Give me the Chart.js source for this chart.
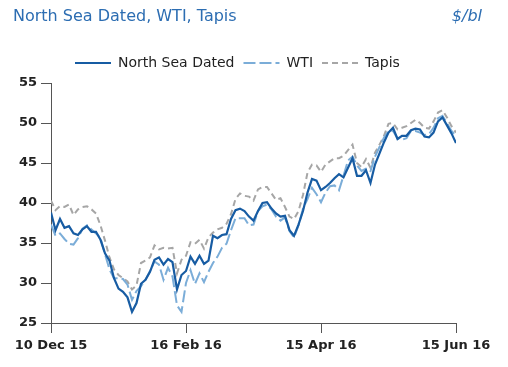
<!DOCTYPE html>
<html>
<head>
<meta charset="utf-8">
<script src="https://cdn.jsdelivr.net/npm/chart.js@4.4.0/dist/chart.umd.min.js"></script>
<style>
  html, body { margin: 0; padding: 0; background: #fff; }
  #wrap { position: relative; width: 508px; height: 367px; }
  .head { position: absolute; top: 6px; font-family: 'DejaVu Sans'; font-size: 16px; color: #2c6db2; white-space: nowrap; }
  #title { left: 13px; }
  #unit { right: 26px; font-style: italic; }
</style>
</head>
<body>
<div id="wrap">
  <canvas id="chart" width="508" height="367"></canvas>
  <div class="head" id="title">North Sea Dated, WTI, Tapis</div>
  <div class="head" id="unit">$/bl</div>
</div>
<script>
// x축 눈금 (데이터 인덱스 기준)
var tickIndex = [0, 30, 60, 90];
var tickLabels = ['10 Dec 15', '16 Feb 16', '15 Apr 16', '15 Jun 16'];

// 시리즈 값 ($/bl)
var northSea = [38.8,36.6,38.0,36.9,37.1,36.2,36.0,36.7,37.1,36.4,
	36.4,35.4,33.7,32.8,30.6,29.3,28.9,28.2,26.4,27.5,
	29.9,30.4,31.4,32.9,33.2,32.3,33.0,32.6,29.2,31.0,
	31.5,33.3,32.4,33.4,32.4,32.8,35.9,35.6,36.0,36.1,
	38.0,39.1,39.3,39.0,38.3,37.8,39.0,40.0,40.1,39.3,
	38.7,38.3,38.4,36.6,35.9,37.3,39.0,41.3,43.0,42.8,
	41.6,42.0,42.5,43.1,43.6,43.2,44.4,45.6,43.4,43.4,
	44.1,42.5,44.8,46.2,47.6,48.8,49.4,48.0,48.4,48.4,
	49.1,49.3,49.2,48.3,48.2,48.8,50.2,50.7,49.7,48.7,
	47.5];
var wti = [37.3,35.9,36.2,35.5,34.9,34.8,35.6,36.8,37.2,36.7,
	36.2,35.6,33.6,31.7,30.6,30.6,30.5,29.8,27.9,29.0,
	29.6,30.4,31.5,32.7,32.3,30.4,31.9,30.8,27.2,26.4,
	30.0,31.6,29.9,31.2,30.1,31.4,32.5,33.3,34.4,34.9,
	36.6,38.1,38.1,38.1,37.2,37.3,39.0,39.6,39.8,39.2,
	38.3,37.8,38.2,36.5,35.7,37.2,39.3,40.5,41.9,41.1,
	40.1,41.3,42.1,42.2,41.6,43.4,45.3,45.8,44.7,44.0,
	44.3,44.0,45.8,47.0,48.2,49.0,49.0,48.1,47.9,48.1,
	49.0,49.0,48.8,48.5,48.6,49.4,50.6,50.9,50.0,49.0,
	48.4];
var tapis = [40.3,39.1,39.6,39.5,39.8,38.5,39.2,39.5,39.6,39.2,
	38.7,37.2,35.3,33.2,31.7,31.0,30.6,30.2,29.2,29.7,
	32.5,32.8,33.2,34.7,34.2,34.4,34.3,34.4,31.2,32.9,
	33.4,35.1,34.9,35.4,34.3,35.7,36.3,36.7,36.9,37.4,
	38.6,40.5,41.2,40.9,40.8,40.3,41.7,42.0,42.0,41.2,
	40.4,40.6,39.5,38.3,38.0,39.0,41.0,43.8,44.8,44.7,
	43.9,44.8,45.2,45.6,45.6,45.9,46.6,47.3,45.0,44.5,
	45.5,44.4,46.3,47.3,48.4,49.9,50.0,49.2,49.4,49.6,
	50.0,50.4,50.0,49.4,49.3,50.2,51.3,51.6,50.7,49.6,
	48.8];

function toXY(arr) {
	return arr.map((v, i) => ({x: i, y: v}));
}

Chart.defaults.font.family = 'DejaVu Sans';

// 범례 위치 보정
var legendPlacePlugin = {
	id: 'legendPlace',
	afterLayout(chart) {
		chart.legend.left = 66;
		chart.legend.top = 47;
	}
};

var axisFont = { size: 13, weight: 'bold' };

new Chart(document.getElementById('chart'), {
	type: 'line',
	data: {
		datasets: [{
			label: 'North Sea Dated',
			data: toXY(northSea),
			borderColor: '#175ca3',
			borderWidth: 2.2
		}, {
			label: 'WTI',
			data: toXY(wti),
			borderColor: '#7badd8',
			borderWidth: 2,
			borderDash: [12, 4]
		}, {
			label: 'Tapis',
			data: toXY(tapis),
			borderColor: '#a6a6a6',
			borderWidth: 2,
			borderDash: [6, 4]
		}]
	},
	options: {
		responsive: false,
		animation: false,
		elements: {
			point: { radius: 0 },
			line: { tension: 0, fill: false }
		},
		layout: {
			padding: { top: 50, right: 52, bottom: 0, left: 0 }
		},
		plugins: {
			tooltip: { enabled: false },
			legend: {
				position: 'top',
				align: 'start',
				labels: {
					usePointStyle: true,
					pointStyleWidth: 36,
					padding: 9,
					color: '#222',
					font: { size: 14 },
					generateLabels: chart => chart.data.datasets.map((ds, i) => ({
						text: ds.label,
						strokeStyle: ds.borderColor,
						fillStyle: ds.borderColor,
						lineWidth: ds.borderWidth,
						lineDash: ds.borderDash || [],
						pointStyle: 'line',
						fontColor: '#222',
						hidden: false,
						datasetIndex: i
					}))
				}
			}
		},
		scales: {
			x: {
				type: 'linear',
				min: 0,
				max: 90,
				afterFit: scale => { scale.height = 44; },
				afterBuildTicks: scale => { scale.ticks = tickIndex.map(v => ({value: v})); },
				grid: { drawOnChartArea: false, tickLength: 10, tickColor: '#555' },
				border: { color: '#555' },
				ticks: {
					autoSkip: false,
					maxRotation: 0,
					padding: 5,
					color: '#222',
					font: axisFont,
					callback: v => tickLabels[tickIndex.indexOf(v)]
				}
			},
			y: {
				min: 25,
				max: 55,
				afterFit: scale => { scale.width = 51; },
				grid: { drawOnChartArea: false, tickLength: 10, tickColor: '#555' },
				border: { color: '#555' },
				ticks: {
					stepSize: 5,
					padding: 4,
					color: '#222',
					font: axisFont
				}
			}
		}
	},
	plugins: [legendPlacePlugin]
});
</script>
</body>
</html>
